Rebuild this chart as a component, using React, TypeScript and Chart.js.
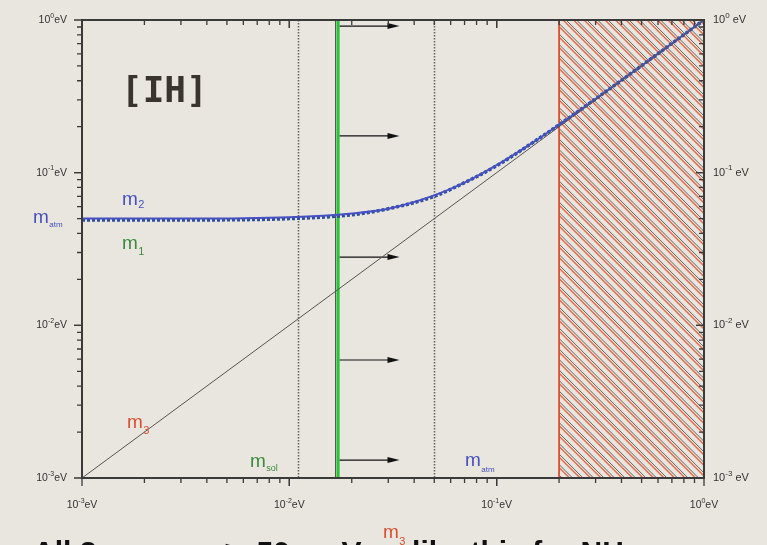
import React, { useEffect, useRef } from 'react';
import { Chart, registerables } from 'chart.js';

Chart.register(...registerables);

// lightest neutrino mass m3 (eV)
const lightestMass = [0.001, 0.003, 0.01, 0.02, 0.03, 0.05, 0.07, 0.1, 0.15, 0.2, 0.3, 0.5, 0.7, 1.0];
// heavier masses (eV)
const m2Values = [0.05, 0.05, 0.051, 0.054, 0.058, 0.071, 0.086, 0.112, 0.158, 0.206, 0.304, 0.502, 0.702, 1.0];
const m1Values = [0.049, 0.049, 0.05, 0.053, 0.058, 0.07, 0.086, 0.111, 0.158, 0.206, 0.304, 0.502, 0.702, 1.0];
// m3 itself (diagonal)
const m3X = [0.001, 1.0];
const m3Y = [0.001, 1.0];

const decadeValues = [0.001, 0.01, 0.1, 1];
const decadeExponents = ['-3', '-2', '-1', '0'];

const solarScale = 0.011;
const atmScale = 0.05;
const boundMass = 0.017;
const arrowHeights = [0.913, 0.174, 0.028, 0.00593, 0.00131];
const arrowEnd = 0.034;
const excludedFrom = 0.2;
const excludedTo = 1.0;

const BG = '#e9e6df';
const AXIS = '#3a3a3a';
const RED = '#d9502f';
const BLUE = '#4650c0';
const GREEN = '#3c8a3c';

function drawPow(ctx: CanvasRenderingContext2D, x: number, y: number, exp: string, suffix: string, align: 'left' | 'right' | 'center', size = 10) {
  ctx.save();
  ctx.fillStyle = '#333';
  ctx.textBaseline = 'middle';
  ctx.textAlign = 'left';
  const base = `${size}px "Liberation Sans", Arial, sans-serif`;
  const small = `${Math.round(size * 0.7)}px "Liberation Sans", Arial, sans-serif`;
  ctx.font = base;
  const w1 = ctx.measureText('10').width;
  const w3 = ctx.measureText(suffix).width;
  ctx.font = small;
  const w2 = ctx.measureText(exp).width;
  const total = w1 + w2 + w3;
  let sx = x;
  if (align === 'right') sx = x - total;
  else if (align === 'center') sx = x - total / 2;
  ctx.font = base;
  ctx.fillText('10', sx, y);
  ctx.font = small;
  ctx.fillText(exp, sx + w1, y - size * 0.42);
  ctx.font = base;
  ctx.fillText(suffix, sx + w1 + w2, y);
  ctx.restore();
}

function drawSub(ctx: CanvasRenderingContext2D, x: number, y: number, main: string, sub: string, color: string, size: number, subSize: number, subDrop: number) {
  ctx.save();
  ctx.fillStyle = color;
  ctx.textBaseline = 'alphabetic';
  ctx.textAlign = 'left';
  ctx.font = `${size}px "Liberation Sans", Arial, sans-serif`;
  ctx.fillText(main, x, y);
  const w = ctx.measureText(main).width;
  ctx.font = `${subSize}px "Liberation Sans", Arial, sans-serif`;
  ctx.fillText(sub, x + w + 0.5, y + subDrop);
  ctx.restore();
}

const decoPlugin = {
  id: 'deco',
  beforeDraw(chart: any) {
    const ctx = chart.ctx as CanvasRenderingContext2D;
    ctx.save();
    ctx.fillStyle = BG;
    ctx.fillRect(0, 0, chart.width, chart.height);
    ctx.restore();
  },
  beforeDatasetsDraw(chart: any) {
    const ctx = chart.ctx as CanvasRenderingContext2D;
    const xs = chart.scales.x;
    const ys = chart.scales.y;
    const { top, bottom } = chart.chartArea;
    // hatched excluded region
    const hx0 = xs.getPixelForValue(excludedFrom);
    const hx1 = xs.getPixelForValue(excludedTo);
    ctx.save();
    ctx.beginPath();
    ctx.rect(hx0, top, hx1 - hx0, bottom - top);
    ctx.clip();
    const step = 10.5;
    const h = bottom - top;
    for (let s = hx0 - h; s < hx1 + step; s += step) {
      ctx.beginPath();
      ctx.strokeStyle = '#e2694a';
      ctx.lineWidth = 1.4;
      ctx.moveTo(s, top);
      ctx.lineTo(s + h, bottom);
      ctx.stroke();
      ctx.beginPath();
      ctx.strokeStyle = '#6a625c';
      ctx.lineWidth = 1;
      ctx.moveTo(s + 3, top);
      ctx.lineTo(s + 3 + h, bottom);
      ctx.stroke();
    }
    ctx.restore();
    ctx.save();
    ctx.strokeStyle = RED;
    ctx.lineWidth = 1.8;
    ctx.strokeRect(hx0, top, hx1 - hx0, bottom - top);
    ctx.restore();

    // dotted vertical lines
    ctx.save();
    ctx.strokeStyle = '#666';
    ctx.lineWidth = 1.6;
    ctx.setLineDash([1.5, 1.5]);
    [solarScale, atmScale].forEach((v) => {
      const px = Math.round(xs.getPixelForValue(v)) + 0.5;
      ctx.beginPath();
      ctx.moveTo(px, top);
      ctx.lineTo(px, bottom);
      ctx.stroke();
    });
    ctx.restore();

    // bound line (grey + green)
    const bx = xs.getPixelForValue(boundMass);
    ctx.save();
    ctx.strokeStyle = '#555';
    ctx.lineWidth = 1.2;
    ctx.beginPath();
    ctx.moveTo(bx - 1.5, top);
    ctx.lineTo(bx - 1.5, bottom);
    ctx.stroke();
    ctx.strokeStyle = '#22c832';
    ctx.lineWidth = 3;
    ctx.beginPath();
    ctx.moveTo(bx + 1, top);
    ctx.lineTo(bx + 1, bottom);
    ctx.stroke();
    ctx.restore();

    // arrows
    const ax1 = xs.getPixelForValue(arrowEnd);
    ctx.save();
    ctx.strokeStyle = '#111';
    ctx.fillStyle = '#111';
    ctx.lineWidth = 1.2;
    arrowHeights.forEach((v) => {
      const py = ys.getPixelForValue(v);
      ctx.beginPath();
      ctx.moveTo(bx + 2.5, py);
      ctx.lineTo(ax1 - 6, py);
      ctx.stroke();
      ctx.beginPath();
      ctx.moveTo(ax1, py);
      ctx.lineTo(ax1 - 12, py - 3);
      ctx.lineTo(ax1 - 12, py + 3);
      ctx.closePath();
      ctx.fill();
    });
    ctx.restore();
  },
  afterDatasetsDraw(chart: any) {
    const ctx = chart.ctx as CanvasRenderingContext2D;
    const xs = chart.scales.x;
    const ys = chart.scales.y;
    const { left, right, top, bottom } = chart.chartArea;

    // axes frame
    ctx.save();
    ctx.strokeStyle = AXIS;
    ctx.lineWidth = 2;
    ctx.strokeRect(left, top, right - left, bottom - top);
    ctx.lineWidth = 1.3;
    for (let d = 0; d < 3; d++) {
      const base = decadeValues[d];
      for (let m = 1; m <= 10; m++) {
        const v = base * m;
        const major = m === 1 || m === 10;
        const px = xs.getPixelForValue(v);
        const py = ys.getPixelForValue(v);
        const L = major ? 8 : 5;
        ctx.beginPath();
        ctx.moveTo(px, bottom);
        ctx.lineTo(px, bottom + L);
        ctx.moveTo(px, top);
        ctx.lineTo(px, top + L);
        ctx.moveTo(left, py);
        ctx.lineTo(left - L, py);
        ctx.moveTo(right, py);
        ctx.lineTo(right - L, py);
        ctx.stroke();
      }
    }
    ctx.restore();

    // tick labels
    decadeValues.forEach((v, i) => {
      const py = ys.getPixelForValue(v);
      const px = xs.getPixelForValue(v);
      drawPow(ctx, left - 15, py, decadeExponents[i], 'eV', 'right', 10.5);
      drawPow(ctx, right + 9, py, decadeExponents[i], ' eV', 'left', 11);
      drawPow(ctx, px, bottom + 27, decadeExponents[i], 'eV', 'center', 10.5);
    });

    // labels
    ctx.save();
    ctx.fillStyle = '#3a342e';
    ctx.font = 'bold 36px "DejaVu Sans Mono", monospace';
    ctx.textBaseline = 'middle';
    ctx.textAlign = 'left';
    ctx.fillText('[IH]', 121, 93);
    ctx.restore();

    drawSub(ctx, 122, 205, 'm', '2', BLUE, 19, 11, 3);
    drawSub(ctx, 33, 223, 'm', 'atm', BLUE, 19, 8, 4);
    drawSub(ctx, 122, 249, 'm', '1', GREEN, 19, 11, 6);
    drawSub(ctx, 127, 428, 'm', '3', RED, 19, 11, 6);
    drawSub(ctx, 250, 467, 'm', 'sol', GREEN, 19, 9, 4);
    drawSub(ctx, 465, 466, 'm', 'atm', BLUE, 19, 8, 6);
    drawSub(ctx, 383, 538, 'm', '3', RED, 19, 11, 7);

    ctx.save();
    ctx.fillStyle = '#111';
    ctx.font = 'bold 30px "Liberation Sans", Arial, sans-serif';
    ctx.textBaseline = 'alphabetic';
    ctx.textAlign = 'left';
    ctx.fillText('All 3 masses \u2273 50 meV, unlike this for NH', 33, 562);
    ctx.restore();
  },
};

export default function App() {
  const ref = useRef<HTMLCanvasElement | null>(null);
  useEffect(() => {
    if (!ref.current) return;
    const chart = new Chart(ref.current, {
      type: 'line',
      data: {
        datasets: [
          {
            label: 'm3',
            data: m3X.map((x, i) => ({ x, y: m3Y[i] })),
            borderColor: '#555',
            borderWidth: 1,
            pointRadius: 0,
            fill: false,
          },
          {
            label: 'm2',
            data: lightestMass.map((x, i) => ({ x, y: m2Values[i] })),
            borderColor: BLUE,
            borderWidth: 2,
            pointRadius: 0,
            cubicInterpolationMode: 'monotone',
            fill: false,
          },
          {
            label: 'm1',
            data: lightestMass.map((x, i) => ({ x, y: m1Values[i] })),
            borderColor: '#2c4f9e',
            borderWidth: 3.5,
            borderDash: [3, 2],
            pointRadius: 0,
            cubicInterpolationMode: 'monotone',
            fill: false,
          },
        ],
      },
      options: {
        animation: false,
        responsive: false,
        maintainAspectRatio: false,
        layout: { padding: { left: 82, right: 63, top: 20, bottom: 67 } },
        plugins: { legend: { display: false }, tooltip: { enabled: false } },
        scales: {
          x: { type: 'logarithmic', min: 0.001, max: 1, display: false },
          y: { type: 'logarithmic', min: 0.001, max: 1, display: false },
        },
      },
      plugins: [decoPlugin],
    } as any);
    return () => chart.destroy();
  }, []);
  return (
    <div style={{ position: 'absolute', left: 0, top: 0, width: 767, height: 545, background: BG }}>
      <canvas ref={ref} width={767} height={545} style={{ display: 'block' }} />
    </div>
  );
}
